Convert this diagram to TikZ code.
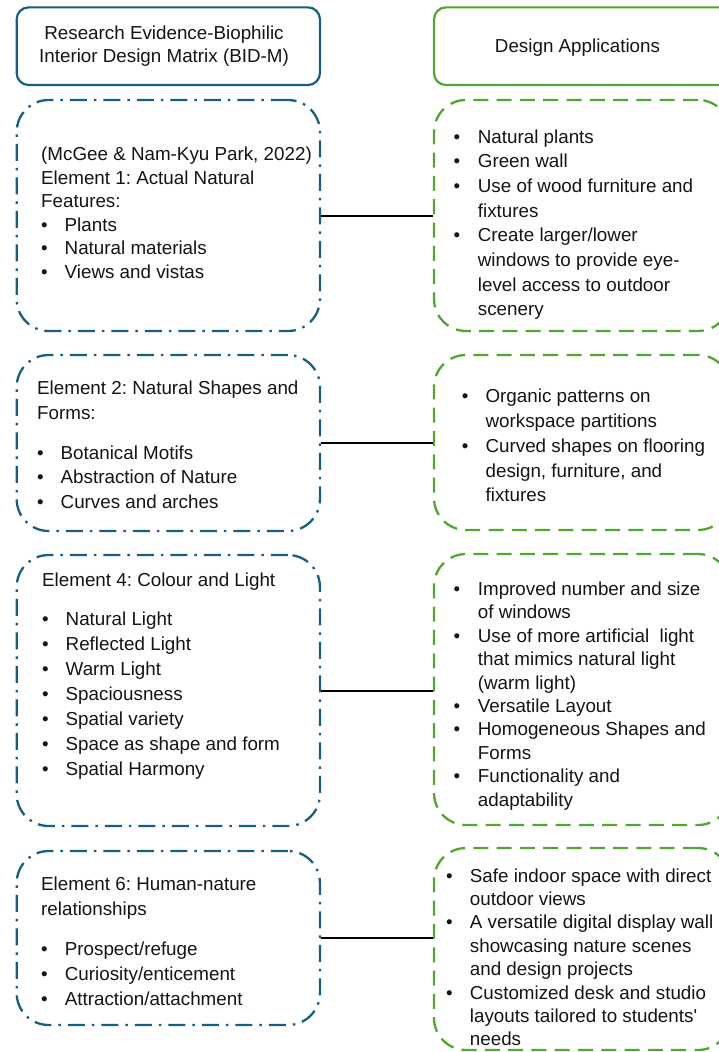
\documentclass[tikz,border=0pt]{standalone}
\usepackage{fontspec}
\setmainfont{Liberation Sans}
\definecolor{bidblue}{HTML}{156082}
\definecolor{bidgreen}{HTML}{4EA72E}
\definecolor{txtc}{RGB}{20,20,20}
\newlength\bw
\newcommand\bul[1]{\makebox[\bw][l]{\textbullet}#1}
\newcommand\cont[1]{\hspace*{\bw}#1}
\newcommand\boxfont[1]{\fontsize{18.8}{#1}\selectfont}
\frenchspacing
\begin{document}
\begin{tikzpicture}[x=1pt,y=-1pt,
  hdrL/.style={draw=bidblue, line width=2.2pt, rounded corners=12pt,
    minimum width=303.3pt, minimum height=77.7pt, inner sep=0pt},
  hdrR/.style={draw=bidgreen, line width=2.2pt, rounded corners=12pt,
    minimum width=306pt, minimum height=77.7pt, inner sep=0pt},
  lbox/.style={draw=bidblue, line width=2.3pt, rounded corners=32pt,
    dash pattern=on 17pt off 7pt on 2.5pt off 7pt,
    minimum width=303.3pt, inner sep=0pt},
  rbox/.style={draw=bidgreen, line width=2.3pt, rounded corners=32pt,
    dash pattern=on 15pt off 8.3pt,
    minimum width=296pt, inner sep=0pt},
  txt/.style={inner sep=0pt, anchor=base west, text=txtc},
  htxt/.style={inner sep=0pt, anchor=base, text=txtc},
  conn/.style={draw=black, line width=2pt}
]
\path[use as bounding box] (0,0) rectangle (719,1052);
\clip (0,0) rectangle (719,1052);

% headers
\node[hdrL] (HL) at (168.3,46.2) {};
\node[hdrR] (HR) at (587,46.2) {};
\node[htxt] (HLt) at (164,39.5) {\parbox[t]{300pt}{\centering\boxfont{23.2}Research Evidence-Biophilic\\Interior Design Matrix (BID-M)}};
\node[htxt] (HRt) at (577.5,52) {\boxfont{23.2}Design Applications};

% left boxes
\node[lbox, minimum height=231pt] (L1) at (168.3,215.5) {};
\node[lbox, minimum height=176pt] (L2) at (168.3,443) {};
\node[lbox, minimum height=271pt] (L3) at (168.3,690.5) {};
\node[lbox, minimum height=174pt] (L4) at (168.3,938) {};

% right boxes
\node[rbox, minimum height=231pt] (R1) at (582,215.5) {};
\node[rbox, minimum height=175pt] (R2) at (582,442.5) {};
\node[rbox, minimum height=271pt] (R3) at (582,689.5) {};
\node[rbox, minimum height=202pt] (R4) at (582,949) {};

% left texts
\node[txt] (L1t) at (41,160.5) {\parbox[t]{290pt}{\boxfont{23.5}\setlength\bw{23.5pt}%
(McGee \& Nam-Kyu Park, 2022)\\
Element 1: Actual Natural\\
Features:\\
\bul{Plants}\\
\bul{Natural materials}\\
\bul{Views and vistas}}};

\node[txt] (L2t) at (37,394.5) {\parbox[t]{290pt}{\boxfont{24.5}\setlength\bw{23.5pt}%
Element 2: Natural Shapes and\\
Forms:\\[15.5pt]
\bul{Botanical Motifs}\\
\bul{Abstraction of Nature}\\
\bul{Curves and arches}}};

\node[txt] (L3t) at (42,586) {\parbox[t]{290pt}{\boxfont{25}\setlength\bw{23.5pt}%
Element 4: Colour and Light\\[14.5pt]
\bul{Natural Light}\\
\bul{Reflected Light}\\
\bul{Warm Light}\\
\bul{Spaciousness}\\
\bul{Spatial variety}\\
\bul{Space as shape and form}\\
\bul{Spatial Harmony}}};

\node[txt] (L4t) at (41,890) {\parbox[t]{290pt}{\boxfont{25}\setlength\bw{23.7pt}%
Element 6: Human-nature\\
relationships\\[15pt]
\bul{Prospect/refuge}\\
\bul{Curiosity/enticement}\\
\bul{Attraction/attachment}}};

% right texts
\node[txt] (R1t) at (453.4,143) {\parbox[t]{290pt}{\boxfont{24.7}\setlength\bw{24.3pt}%
\bul{Natural plants}\\
\bul{Green wall}\\
\bul{Use of wood furniture and}\\
\cont{fixtures}\\
\bul{Create larger/lower}\\
\cont{windows to provide eye-}\\
\cont{level access to outdoor}\\
\cont{scenery}}};

\node[txt] (R2t) at (461.7,402.7) {\parbox[t]{290pt}{\boxfont{24.8}\setlength\bw{23.7pt}%
\bul{Organic patterns on}\\
\cont{workspace partitions}\\
\bul{Curved shapes on flooring}\\
\cont{design, furniture, and}\\
\cont{fixtures}}};

\node[txt] (R3t) at (453.4,595.5) {\parbox[t]{290pt}{\boxfont{23.4}\setlength\bw{24.3pt}%
\bul{Improved number and size}\\
\cont{of windows}\\
\bul{Use of more artificial\ \ light}\\
\cont{that mimics natural light}\\
\cont{(warm light)}\\
\bul{Versatile Layout}\\
\bul{Homogeneous Shapes and}\\
\cont{Forms}\\
\bul{Functionality and}\\
\cont{adaptability}}};

\node[txt] (R4t) at (446,882) {\parbox[t]{290pt}{\boxfont{23.4}\setlength\bw{23.7pt}%
\bul{Safe indoor space with direct}\\
\cont{outdoor views}\\
\bul{A versatile digital display wall}\\
\cont{showcasing nature scenes}\\
\cont{and design projects}\\
\bul{Customized desk and studio}\\
\cont{layouts tailored to students\textquotesingle}\\
\cont{needs}}};

% connectors
\draw[conn] (L1.east) -- (L1.east -| R1.west);
\draw[conn] (L2.east) -- (L2.east -| R2.west);
\draw[conn] (L3.east) -- (L3.east -| R3.west);
\draw[conn] (L4.east) -- (L4.east -| R4.west);
\end{tikzpicture}
\end{document}
